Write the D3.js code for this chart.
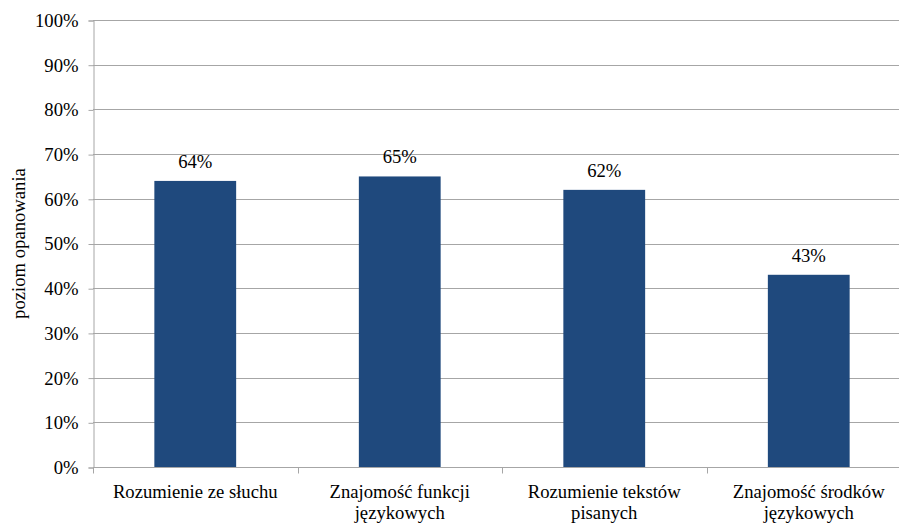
<!DOCTYPE html>
<html>
<head>
<meta charset="utf-8">
<script src="https://cdn.jsdelivr.net/npm/d3@7"></script>
<style>
  body { margin: 0; background: #fff; }
</style>
</head>
<body>
<div id="chart"></div>
<script>
// data
var categories = [
    ["Rozumienie ze słuchu"],
    ["Znajomość funkcji", "językowych"],
    ["Rozumienie tekstów", "pisanych"],
    ["Znajomość środków", "językowych"]
];
var values = [0.64, 0.65, 0.62, 0.43];
var valueLabels = ["64%", "65%", "62%", "43%"];
var yTicks = [0, 0.1, 0.2, 0.3, 0.4, 0.5, 0.6, 0.7, 0.8, 0.9, 1];

var svgWidth = 899, svgHeight = 523;
var margin = { top: 20, left: 93, bottom: 56 };
var plotRight = 911; // plot area runs past the right edge of the picture
var height = svgHeight - margin.top - margin.bottom;
var fontFamily = "'Liberation Serif', 'Times New Roman', serif";
var fontSize = "18.67px";
var gridColor = "#a6a6a6";

var svg = d3.select("#chart").append("svg")
    .attr("width", svgWidth)
    .attr("height", svgHeight);

var x = d3.scaleBand()
    .domain(d3.range(categories.length))
    .range([margin.left, plotRight])
    .paddingInner(0.6)
    .paddingOuter(0.3);

var y = d3.scaleLinear()
    .domain([0, 1])
    .range([margin.top + height, margin.top]);

// gridlines
svg.append("g").selectAll("line")
    .data(yTicks.slice(1))
    .enter().append("line")
    .attr("x1", margin.left).attr("x2", plotRight)
    .attr("y1", d => Math.round(y(d)) + 0.5)
    .attr("y2", d => Math.round(y(d)) + 0.5)
    .attr("stroke", gridColor);

// bars
svg.append("g").selectAll("rect")
    .data(values)
    .enter().append("rect")
    .attr("x", (d, i) => x(i))
    .attr("width", x.bandwidth())
    .attr("y", d => y(d))
    .attr("height", d => y(0) - y(d))
    .attr("fill", "#1f497d");

// value labels
svg.append("g").selectAll("text")
    .data(values)
    .enter().append("text")
    .attr("x", (d, i) => x(i) + x.bandwidth() / 2)
    .attr("y", d => y(d) - 13)
    .attr("text-anchor", "middle")
    .style("font-family", fontFamily)
    .style("font-size", fontSize)
    .style("fill", "#000")
    .text((d, i) => valueLabels[i]);

// y axis
var leftAxis = d3.axisLeft(y)
    .tickValues(yTicks)
    .tickFormat(d3.format(".0%"))
    .tickSize(5)
    .tickPadding(10);

var yAxisG = svg.append("g")
    .attr("transform", `translate(${margin.left + 0.5}, 0.5)`)
    .call(leftAxis);
yAxisG.select(".domain").attr("stroke", gridColor);
yAxisG.selectAll(".tick line").attr("stroke", gridColor);
yAxisG.selectAll(".tick text")
    .style("font-family", fontFamily)
    .style("font-size", fontSize)
    .style("fill", "#000");

// x axis baseline and category boundary ticks
var xBase = Math.round(y(0)) + 0.5;
svg.append("line")
    .attr("x1", margin.left).attr("x2", plotRight)
    .attr("y1", xBase).attr("y2", xBase)
    .attr("stroke", gridColor);

var step = x.step();
svg.append("g").selectAll("line")
    .data(d3.range(categories.length + 1))
    .enter().append("line")
    .attr("x1", i => Math.round(margin.left + i * step) + 0.5)
    .attr("x2", i => Math.round(margin.left + i * step) + 0.5)
    .attr("y1", xBase).attr("y2", xBase + 6)
    .attr("stroke", gridColor);

// category labels
var catG = svg.append("g").selectAll("text")
    .data(categories)
    .enter().append("text")
    .attr("text-anchor", "middle")
    .attr("x", (d, i) => x(i) + x.bandwidth() / 2)
    .attr("y", xBase + 30)
    .style("font-family", fontFamily)
    .style("font-size", fontSize)
    .style("fill", "#000");

catG.selectAll("tspan")
    .data(d => d)
    .enter().append("tspan")
    .attr("x", function() { return d3.select(this.parentNode).attr("x"); })
    .attr("dy", (d, i) => i === 0 ? 0 : 21)
    .text(d => d);

// y axis title
svg.append("text")
    .attr("transform", `translate(25, ${margin.top + height / 2}) rotate(-90)`)
    .attr("text-anchor", "middle")
    .style("font-family", fontFamily)
    .style("font-size", fontSize)
    .style("fill", "#000")
    .text("poziom opanowania");
</script>
</body>
</html>
